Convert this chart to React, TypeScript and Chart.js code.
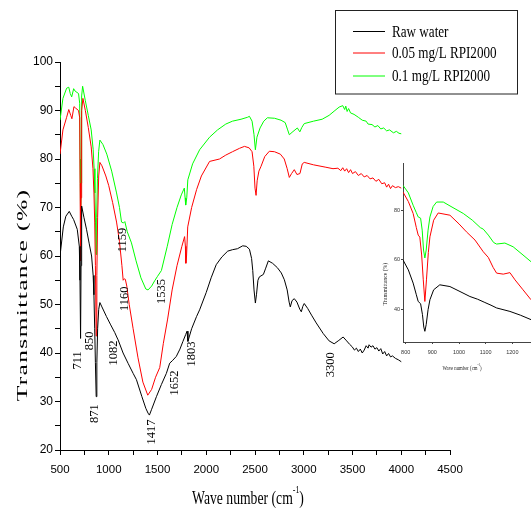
import React, { useEffect, useRef } from 'react';
import { Chart, registerables } from 'chart.js';

Chart.register(...registerables);

// ---------- DATA ----------
const seriesLabels = ['Raw water', '0.05 mg/L RPI2000', '0.1 mg/L RPI2000'];
const seriesColors = ['#000000', '#ff0000', '#00ff00'];

const rawWater: [number, number][] = [
  [500, 60], [534, 66], [560, 68.2], [595, 69.2], [620, 68.2], [640, 67.5], [677, 65.5], [698, 62], [705, 55], [711, 43],
  [716, 58], [722, 70.3], [745, 68], [773, 65.4], [800, 62.5], [824, 60], [840, 56], [848, 52], [856, 45], [863, 38],
  [871, 31], [878, 38], [886, 45], [897, 49], [909, 50.4], [930, 49.5], [977, 47.5], [1020, 45.8], [1062, 44.2], [1082, 43.3],
  [1096, 42.7], [1147, 40], [1200, 37.8], [1250, 35.8], [1284, 34.5], [1340, 31], [1380, 28.6], [1403, 27.6], [1417, 27.2],
  [1440, 28.4], [1489, 31], [1540, 33.5], [1591, 35.8], [1625, 37.9], [1652, 38.4], [1693, 39.3], [1730, 40.8], [1761, 42.4],
  [1789, 43.8], [1803, 44.5], [1812, 42.4], [1850, 45], [1900, 47.5], [1932, 48.9], [2000, 52.5], [2050, 55.5], [2102, 58.2],
  [2160, 59.8], [2220, 61], [2269, 61.3], [2320, 61.5], [2374, 62.1], [2410, 62], [2443, 61.4], [2465, 59.5], [2477, 57],
  [2490, 53], [2504, 50.3], [2515, 52], [2530, 55], [2545, 55.7], [2586, 56.2], [2610, 57.5], [2637, 59], [2680, 58.5],
  [2729, 57.6], [2770, 56.5], [2801, 55.1], [2830, 53], [2850, 50.5], [2862, 49.5], [2880, 50.8], [2903, 51.2], [2930, 50.5],
  [2960, 49], [2975, 48.5], [2990, 49.6], [3005, 50.2], [3040, 49.2], [3080, 47.8], [3128, 46.2], [3200, 44], [3260, 42.5],
  [3312, 41.9], [3360, 42.6], [3404, 43.3], [3440, 42.5], [3470, 41.8], [3496, 41.3], [3520, 40.6], [3540, 41.0], [3560, 40.3],
  [3580, 40.8], [3600, 40.0], [3620, 40.6], [3640, 41.5], [3660, 41.0], [3670, 41.7], [3690, 41.2], [3710, 41.5], [3730, 40.8],
  [3750, 41.1], [3770, 40.4], [3790, 40.9], [3810, 39.8], [3830, 40.3], [3850, 39.4], [3870, 39.9], [3890, 39.2], [3910, 39.4],
  [3940, 38.9], [3970, 38.6], [4000, 38.2],
];

const dose005: [number, number][] = [
  [500, 81], [530, 86], [568, 88.6], [590, 90.2], [610, 89], [622, 88.3], [643, 90.8], [660, 90.5], [690, 90], [702, 88.5],
  [706, 75], [711, 59], [716, 72], [722, 90], [735, 92.5], [760, 90], [790, 86.5], [820, 82.5], [838, 78], [848, 73],
  [856, 67], [863, 58], [871, 43.5], [878, 56], [886, 68], [897, 76.5], [909, 79.3], [930, 78.6], [970, 76.5], [1000, 74.5],
  [1040, 71], [1080, 67], [1110, 63], [1135, 58], [1148, 55], [1160, 55.3], [1170, 55.2], [1185, 53.8], [1210, 50], [1250, 45],
  [1300, 39], [1350, 34], [1400, 31.3], [1440, 32.5], [1480, 35], [1523, 37], [1560, 42], [1604, 47], [1650, 53], [1700, 58],
  [1750, 62], [1778, 64], [1786, 62], [1791, 58.5], [1798, 60], [1810, 66], [1850, 70], [1901, 73.7], [1950, 76.5], [2034, 79.5],
  [2136, 80], [2200, 80.8], [2269, 81.5], [2341, 82.2], [2392, 82.6], [2440, 82.3], [2470, 81.5], [2488, 78.5], [2500, 74],
  [2511, 72.5], [2522, 75.5], [2540, 77.5], [2562, 78.5], [2600, 80.5], [2647, 81.6], [2700, 81.5], [2760, 81], [2800, 80],
  [2830, 78], [2852, 76.2], [2875, 77], [2903, 77.8], [2930, 76.8], [2961, 77], [2985, 79], [3005, 79.3], [3100, 78.8],
  [3227, 78.3], [3300, 78], [3350, 78.1], [3380, 77.6], [3400, 78.2], [3420, 77.5], [3440, 78.0], [3460, 77.2], [3480, 77.8],
  [3500, 77.0], [3530, 77.4], [3560, 76.6], [3590, 77.0], [3620, 76.3], [3650, 76.6], [3680, 75.9], [3710, 76.1], [3740, 75.4],
  [3770, 75.8], [3800, 74.9], [3830, 75.1], [3850, 74.2], [3870, 74.8], [3890, 73.9], [3910, 74.5], [3940, 74.1], [3970, 74.3],
  [4000, 74.0],
];

const dose01: [number, number][] = [
  [500, 88], [530, 92.5], [568, 94.6], [590, 94.8], [605, 93.5], [620, 92.8], [640, 94.5], [655, 94], [690, 93.5], [702, 91.5],
  [706, 80], [711, 68], [716, 75], [722, 93], [732, 95], [760, 92], [790, 89], [820, 86], [840, 82], [850, 78], [858, 73],
  [864, 67], [870, 60.3], [876, 68], [884, 76], [896, 81.5], [909, 83.9], [940, 83], [980, 81], [1030, 77.5], [1080, 73],
  [1110, 70], [1131, 67], [1150, 66.8], [1165, 67.1], [1190, 65], [1233, 62.7], [1280, 59], [1330, 55.5], [1380, 53.2],
  [1403, 53], [1440, 53.8], [1471, 54.9], [1500, 55.8], [1540, 57], [1600, 62], [1650, 66.5], [1700, 70], [1744, 72.6],
  [1775, 74], [1783, 72], [1789, 70.5], [1800, 72], [1811, 75.7], [1860, 79], [1932, 81.9], [2034, 84.5], [2116, 86],
  [2200, 87.2], [2269, 87.8], [2357, 88.2], [2423, 88.6], [2443, 88.8], [2470, 87.8], [2490, 85], [2504, 81.9], [2520, 84.5],
  [2552, 86.4], [2590, 87.8], [2627, 88.5], [2700, 88.4], [2767, 88], [2810, 87.5], [2835, 86], [2852, 85], [2880, 85.5],
  [2934, 86.4], [2960, 85.6], [2980, 86.5], [3005, 87.3], [3100, 87.8], [3189, 88.2], [3260, 89], [3320, 90], [3363, 90.7],
  [3400, 91.0], [3420, 90.2], [3431, 90.9], [3445, 89.8], [3460, 90.4], [3480, 89.5], [3516, 89.2], [3560, 88.6], [3600, 88.0],
  [3640, 87.8], [3660, 87.2], [3700, 87.1], [3730, 86.6], [3760, 86.9], [3790, 86.2], [3820, 86.4], [3850, 85.8], [3880, 86.0],
  [3920, 85.4], [3950, 85.7], [3977, 85.3], [4000, 85.2],
];

// inset (zoom of 790-1270 cm-1)
const insetRaw: [number, number][] = [
  [790, 60], [810, 56], [828, 50.7], [840, 46], [847, 43.3], [856, 42.4], [863, 38], [868, 33], [872, 31.3], [877, 34],
  [884, 40], [891, 44], [905, 48], [928, 50], [966, 49.3], [1000, 47.5], [1041, 45.3], [1070, 44.2], [1097, 42.9],
  [1120, 41.8], [1141, 40.7], [1191, 39.3], [1230, 37.8], [1270, 36],
];
const insetDose005: [number, number][] = [
  [790, 87.3], [810, 83.5], [828, 78.7], [840, 73], [847, 70], [853, 69.2], [860, 62], [866, 52], [872, 43.3], [878, 52],
  [885, 63], [891, 69.3], [905, 76], [922, 78.9], [966, 78], [1000, 74.5], [1028, 71.3], [1060, 68], [1091, 63.3],
  [1110, 61], [1128, 57], [1141, 54.7], [1166, 54.3], [1191, 54.9], [1210, 52], [1240, 48], [1270, 44],
];
const insetDose01: [number, number][] = [
  [790, 90], [810, 87], [828, 82], [840, 79], [847, 77.3], [856, 76.8], [862, 72], [867, 64], [872, 60.8], [877, 64],
  [884, 72], [891, 77.3], [903, 81.5], [916, 83.3], [941, 83.3], [970, 81.5], [1016, 78.7], [1050, 76], [1080, 73],
  [1091, 72.4], [1110, 70], [1130, 67], [1141, 66.4], [1172, 66.8], [1203, 65.3], [1240, 62], [1270, 59.3],
];

// peak labels: [text, wavenumber, transmittance] (anchor of rotated label)
const peakLabels: [string, number, number][] = [
  ['711', 684, 38.5], ['850', 800, 42.5], ['871', 858, 27.5], ['1082', 1050, 40.0], ['1160', 1165, 51.2],
  ['1159', 1147, 63.3], ['1535', 1540, 52.7], ['1417', 1441, 23.7], ['1652', 1676, 33.8], ['1803', 1846, 39.8],
  ['3300', 3278, 37.6],
];

// ---------- helpers ----------
const SERIF = '"Liberation Serif", "Times New Roman", serif';
const SANS = '"Liberation Sans", Arial, sans-serif';

function text(ctx: CanvasRenderingContext2D, s: string, x: number, y: number, size: number, sx: number,
  rot: number, align: CanvasTextAlign, color: string, spacing = 0) {
  ctx.save();
  ctx.translate(x, y);
  if (rot) ctx.rotate(rot);
  ctx.scale(sx, 1);
  ctx.font = `${size}px ${SERIF}`;
  (ctx as any).letterSpacing = `${spacing}px`;
  ctx.fillStyle = color;
  ctx.textAlign = align;
  ctx.textBaseline = 'middle';
  ctx.fillText(s, 0, 0);
  (ctx as any).letterSpacing = '0px';
  ctx.restore();
}

function supTitle(ctx: CanvasRenderingContext2D, a: string, sup: string, b: string, cx: number, baseY: number,
  size: number, supSize: number, sx: number, color: string) {
  ctx.save();
  ctx.translate(cx, baseY);
  ctx.scale(sx, 1);
  ctx.fillStyle = color;
  ctx.textBaseline = 'alphabetic';
  ctx.textAlign = 'left';
  ctx.font = `${size}px ${SERIF}`;
  const wa = ctx.measureText(a).width;
  const wb = ctx.measureText(b).width;
  ctx.font = `${supSize}px ${SERIF}`;
  const ws = ctx.measureText(sup).width;
  const start = -(wa + ws + wb) / 2;
  ctx.font = `${size}px ${SERIF}`;
  ctx.fillText(a, start, 0);
  ctx.fillText(b, start + wa + ws, 0);
  ctx.font = `${supSize}px ${SERIF}`;
  ctx.fillText(sup, start + wa, -size * 0.58);
  ctx.restore();
}

const toXY = (arr: [number, number][]) => arr.map(([x, y]) => ({ x, y }));

const mainDecor = {
  id: 'mainDecor',
  afterDraw(chart: any) {
    const ctx: CanvasRenderingContext2D = chart.ctx;
    const xs = chart.scales.x;
    const ys = chart.scales.y;
    // axis titles
    text(ctx, 'Transmittance (%)', 23, 295, 15, 1.7, -Math.PI / 2, 'center', '#000', 0.8);
    supTitle(ctx, 'Wave number (cm', '-1', ')', 248, 504, 19, 11, 0.72, '#000');
    // peak labels
    peakLabels.forEach(([t, w, v]) => {
      text(ctx, t, xs.getPixelForValue(w), ys.getPixelForValue(v), 12.5, 1, -Math.PI / 2, 'center', '#000');
    });
    // legend
    ctx.save();
    ctx.strokeStyle = '#222';
    ctx.lineWidth = 1;
    ctx.strokeRect(335.5, 10.5, 182, 83.5);
    const rows = [31.5, 53, 76];
    chart.data.datasets.forEach((ds: any, i: number) => {
      ctx.strokeStyle = ds.borderColor;
      ctx.beginPath();
      ctx.moveTo(353, rows[i]);
      ctx.lineTo(385, rows[i]);
      ctx.stroke();
      text(ctx, ds.label, 392, rows[i] + 1, 16, 0.82, 0, 'left', '#000');
    });
    ctx.restore();
  },
};

const insetDecor = {
  id: 'insetDecor',
  afterDraw(chart: any) {
    const ctx: CanvasRenderingContext2D = chart.ctx;
    text(ctx, 'Transmittance (%)', 10.7, 129, 6, 0.95, -Math.PI / 2, 'center', '#222');
    supTitle(ctx, 'Wave number (cm', '-1', ')', 87, 215, 7, 4.5, 0.68, '#222');
  },
};

function axisOpts(color: string, tickLen: number) {
  return {
    grid: { drawOnChartArea: false, drawTicks: true, tickLength: tickLen, color, tickColor: color, lineWidth: 1 },
    border: { display: true, color, width: 1 },
  };
}

export default function App() {
  const mainRef = useRef<HTMLCanvasElement>(null);
  const insetRef = useRef<HTMLCanvasElement>(null);

  useEffect(() => {
    const mk = (arr: [number, number][], i: number) => ({
      label: seriesLabels[i],
      data: toXY(arr),
      borderColor: seriesColors[i],
      backgroundColor: seriesColors[i],
      borderWidth: 1,
      pointRadius: 0,
      tension: 0,
      fill: false,
    });

    const main = new Chart(mainRef.current!, {
      type: 'line',
      data: { datasets: [mk(rawWater, 0), mk(dose005, 1), mk(dose01, 2)] },
      options: {
        animation: false,
        responsive: false,
        layout: { padding: { top: 62, right: 81, left: 0, bottom: 0 } },
        plugins: { legend: { display: false }, tooltip: { enabled: false }, title: { display: false } },
        scales: {
          x: {
            type: 'linear', min: 500, max: 4500,
            afterFit: (s: any) => { s.height = 58; },
            ticks: {
              stepSize: 250, autoSkip: false, maxRotation: 0, padding: 8, color: '#000',
              font: { family: SANS, size: 11.5 },
              callback: (v: any) => (Number(v) % 500 === 0 ? String(v) : ''),
            },
            ...axisOpts('#000', 5),
          },
          y: {
            type: 'linear', min: 20, max: 100,
            afterFit: (s: any) => { s.width = 60; },
            ticks: {
              stepSize: 5, autoSkip: false, padding: 2, color: '#000',
              font: { family: SANS, size: 12 },
              callback: (v: any) => (Number(v) % 10 === 0 ? String(v) : ''),
            },
            ...axisOpts('#000', 5),
          },
        },
      } as any,
      plugins: [mainDecor],
    });

    const inset = new Chart(insetRef.current!, {
      type: 'line',
      data: { datasets: [mk(insetRaw, 0), mk(insetDose005, 1), mk(insetDose01, 2)] },
      options: {
        animation: false,
        responsive: false,
        layout: { padding: { top: 8, right: 0, left: 0, bottom: 0 } },
        plugins: { legend: { display: false }, tooltip: { enabled: false }, title: { display: false } },
        scales: {
          x: {
            type: 'linear', min: 790, max: 1270,
            afterFit: (s: any) => { s.height = 38; },
            ticks: {
              stepSize: 100, includeBounds: false, autoSkip: false, maxRotation: 0, padding: 5, color: '#333',
              font: { family: SANS, size: 5.5 },
              callback: (v: any) => String(v),
            },
            ...axisOpts('#444', 2),
          },
          y: {
            type: 'linear', min: 27, max: 99,
            afterFit: (s: any) => { s.width = 28; },
            ticks: {
              stepSize: 20, includeBounds: false, autoSkip: false, padding: 1, color: '#333',
              font: { family: SANS, size: 5.5 },
              callback: (v: any) => String(v),
            },
            ...axisOpts('#444', 2),
          },
        },
      } as any,
      plugins: [insetDecor],
    });

    return () => { main.destroy(); inset.destroy(); };
  }, []);

  return (
    <div style={{ position: 'fixed', left: 0, top: 0, width: 531, height: 508, background: '#fff', overflow: 'hidden' }}>
      <canvas ref={mainRef} width={531} height={508} style={{ position: 'absolute', left: 0, top: 0, width: 531, height: 508 }} />
      <canvas ref={insetRef} width={156} height={225} style={{ position: 'absolute', left: 375, top: 155, width: 156, height: 225 }} />
    </div>
  );
}
